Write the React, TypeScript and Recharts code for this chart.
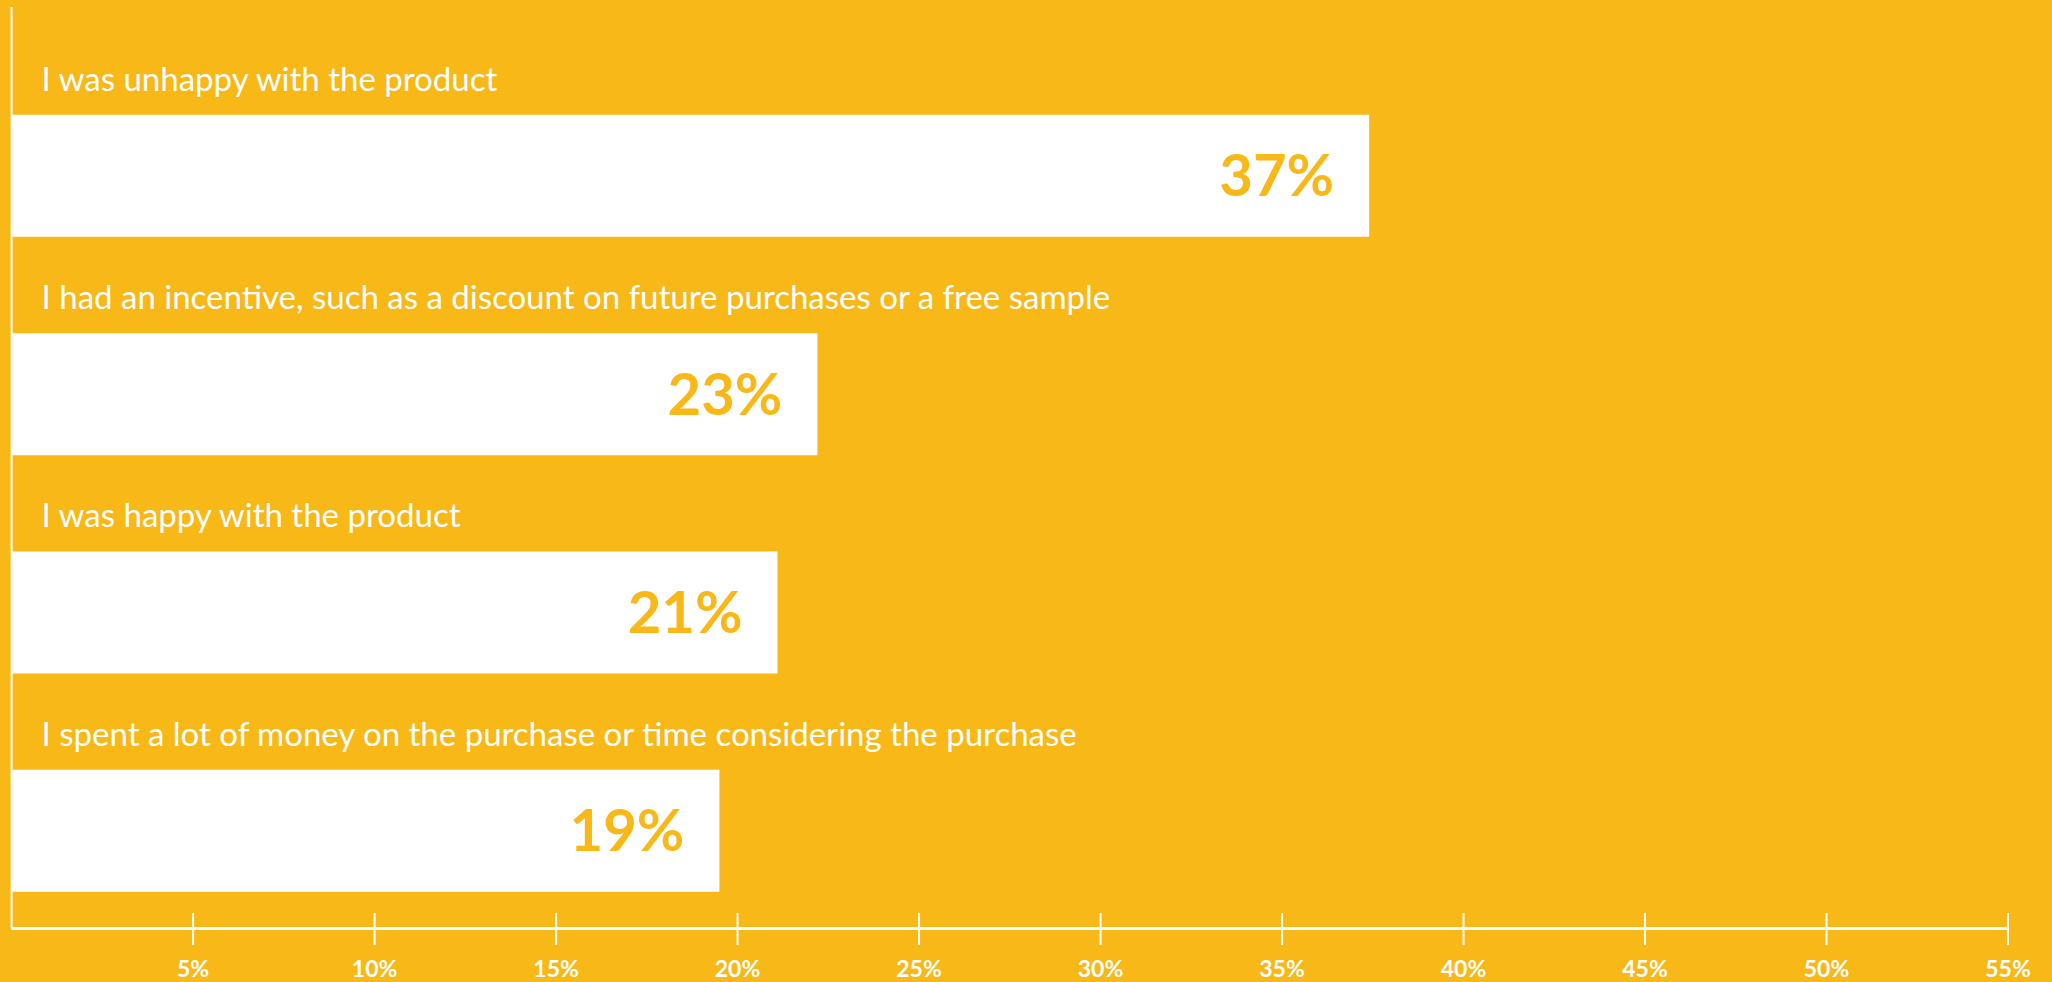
import React from "react"
import { BarChart, Bar, XAxis, YAxis, LabelList } from "recharts"

const ORANGE = "#F8B817"

const reasons = [
  "I was unhappy with the product",
  "I had an incentive, such as a discount on future purchases or a free sample",
  "I was happy with the product",
  "I spent a lot of money on the purchase or time considering the purchase",
]
// bar lengths as drawn, the printed labels are rounded differently
const shares = [37.4, 22.2, 21.1, 19.5]
const shareLabels = ["37%", "23%", "21%", "19%"]
const xTicks = [5, 10, 15, 20, 25, 30, 35, 40, 45, 50, 55]

const data = reasons.map((reason, i) => ({ reason, share: shares[i], label: shareLabels[i] }))

const FONT = "Lato, 'Open Sans', sans-serif"

const AxisTick = (props: any) => {
  const { x, y, payload } = props
  return (
    <g>
      <line x1={x} x2={x} y1={y - 15.5} y2={y + 16.5} stroke="#fff" strokeWidth={2} />
      <text x={x} y={y + 48} textAnchor="middle" fill="#fff" fontSize={23} fontWeight={700} fontFamily={FONT}>
        {payload.value}%
      </text>
    </g>
  )
}

const ReasonLabel = (props: any) => {
  const { x, y, value } = props
  return (
    <text x={x + 30} y={y - 24} fill="#fff" fontSize={33} fontFamily={FONT}>
      {value}
    </text>
  )
}

const ShareLabel = (props: any) => {
  const { x, y, width, height, value } = props
  return (
    <text x={x + width - 35} y={y + height / 2 + 20.5} textAnchor="end" fill={ORANGE} fontSize={58} fontWeight={700} fontFamily={FONT}>
      {value}
    </text>
  )
}

export default function App() {
  return (
    <div style={{ position: "absolute", left: 0, top: 0, width: 2052, height: 982, background: ORANGE }}>
      <BarChart
        layout="vertical"
        width={2052}
        height={982}
        data={data}
        margin={{ top: 7, right: 44, left: 10.6, bottom: 0 }}
      >
        <XAxis
          type="number"
          domain={[0, 55]}
          ticks={xTicks}
          height={53.5}
          axisLine={{ stroke: "#fff", strokeWidth: 3 }}
          tickLine={false}
          tickSize={0}
          tickMargin={0}
          tick={<AxisTick />}
          interval={0}
        />
        <YAxis
          type="category"
          dataKey="reason"
          width={1}
          tick={false}
          tickLine={false}
          axisLine={{ stroke: "#fff", strokeWidth: 2 }}
          padding={{ top: 59.85, bottom: -11.5 }}
        />
        <Bar dataKey="share" fill="#fff" barSize={122} isAnimationActive={false}>
          <LabelList dataKey="reason" content={<ReasonLabel />} />
          <LabelList dataKey="label" content={<ShareLabel />} />
        </Bar>
      </BarChart>
    </div>
  )
}
